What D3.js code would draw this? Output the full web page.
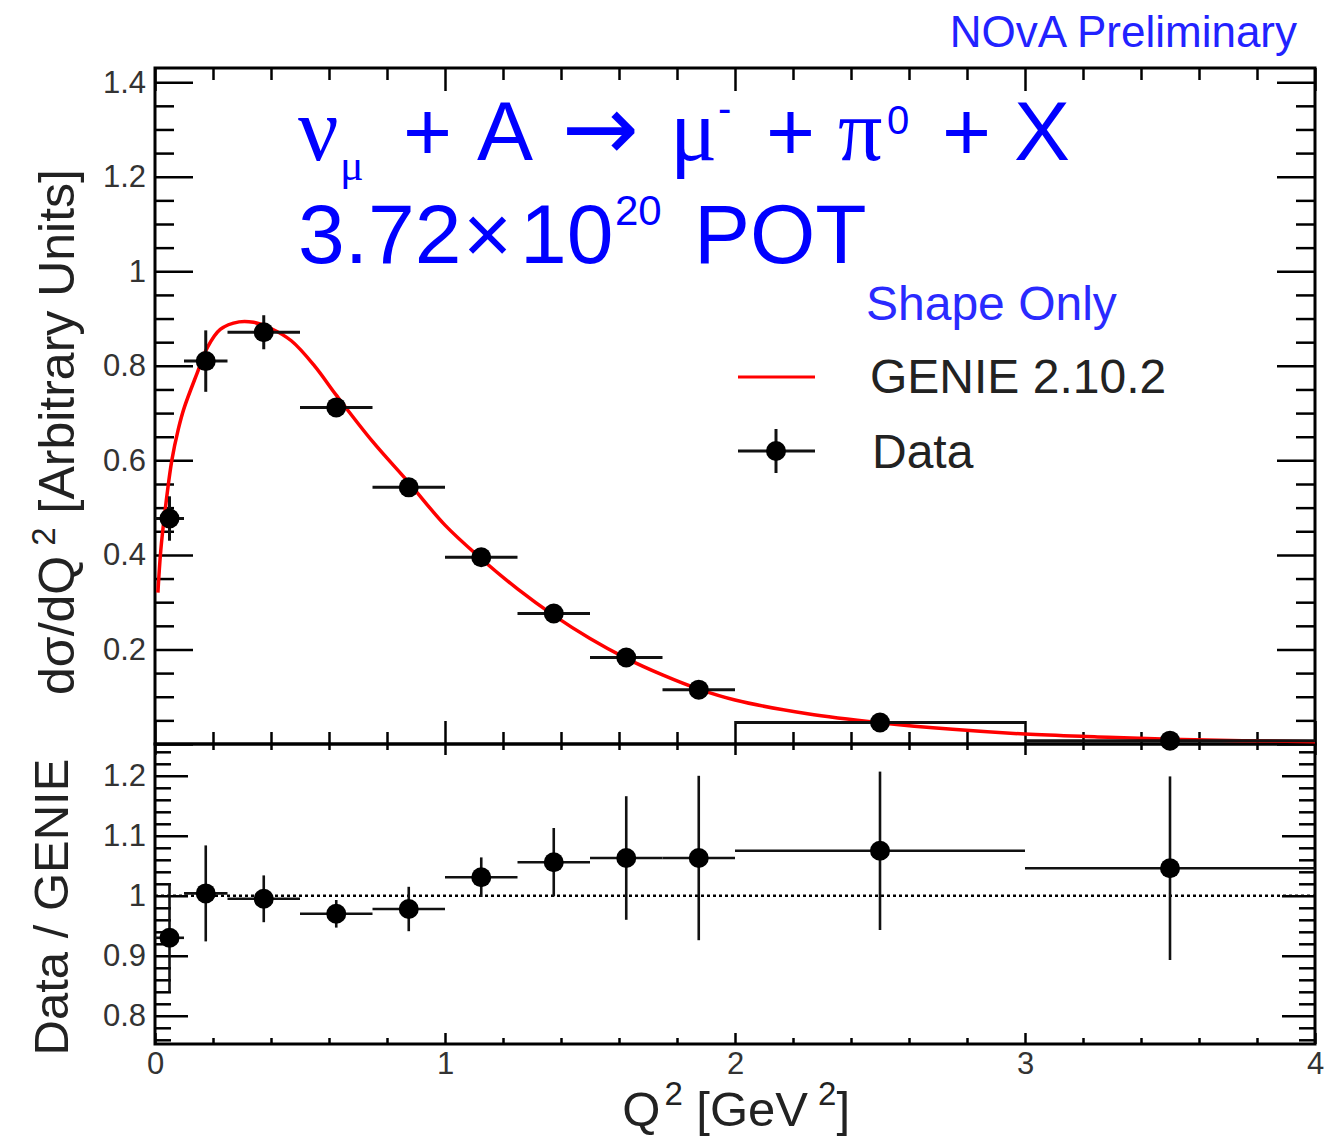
<!DOCTYPE html>
<html><head><meta charset="utf-8">
<script src="https://cdn.jsdelivr.net/npm/d3@7"></script>
<style>
body{margin:0;background:#fff}
text{font-family:"Liberation Sans",Arial,Helvetica,sans-serif}
</style>
</head><body>
<svg id="c" width="1342" height="1137"></svg>
<script>
// ---------------- data ----------------
const binLow  = [0, 0.1, 0.25, 0.5, 0.75, 1.0, 1.25, 1.5, 1.75, 2.0, 3.0];
const binHigh = [0.1, 0.25, 0.5, 0.75, 1.0, 1.25, 1.5, 1.75, 2.0, 3.0, 4.0];
const binCenter = [0.05, 0.175, 0.375, 0.625, 0.875, 1.125, 1.375, 1.625, 1.875, 2.5, 3.5];
const dataY   = [0.477, 0.810, 0.871, 0.712, 0.543, 0.395, 0.276, 0.183, 0.115, 0.0455, 0.007];
const dataErr = [0.047, 0.065, 0.036, 0.012, 0.012, 0.010, 0.008, 0.008, 0.007, 0.004, 0.002];
const ratioY   = [0.930, 1.004, 0.995, 0.970, 0.978, 1.031, 1.056, 1.063, 1.063, 1.075, 1.046];
const ratioErr = [0.090, 0.080, 0.039, 0.023, 0.037, 0.033, 0.057, 0.103, 0.137, 0.132, 0.153];
const genieQ2 = [0.01,0.02,0.034,0.058,0.08,0.1,0.145,0.18,0.225,0.29,0.34,0.4,0.47,0.55,0.625,0.75,0.875,1.0,1.125,1.25,1.375,1.5,1.625,1.75,1.875,2.0,2.25,2.5,2.75,3.0,3.25,3.5,3.75,4.0];
const genieY  = [0.32,0.41,0.49,0.60,0.665,0.71,0.784,0.838,0.877,0.893,0.892,0.879,0.853,0.800,0.738,0.640,0.553,0.463,0.392,0.328,0.272,0.223,0.181,0.146,0.116,0.093,0.064,0.045,0.031,0.021,0.015,0.010,0.007,0.005];
const yTopMajor = [0, 0.2, 0.4, 0.6, 0.8, 1.0, 1.2, 1.4];
const yTopLabels = ["", "0.2", "0.4", "0.6", "0.8", "1", "1.2", "1.4"];
const yBotMajor = [0.8, 0.9, 1.0, 1.1, 1.2];
const yBotLabels = ["0.8", "0.9", "1", "1.1", "1.2"];
const xMajor = [0, 1, 2, 3, 4];
const xLabels = ["0", "1", "2", "3", "4"];
const legendNames = ["GENIE 2.10.2", "Data"];

// ---------------- layout ----------------
const L = 155, R = 1315, T = 68, M = 744, B = 1044;
const svg = d3.select("#c");
const x = d3.scaleLinear([0, 4], [L, R]);
const yT = d3.scaleLinear([0, 1.43], [M, T]);
const yB = d3.scaleLinear([0.753, 1.253], [B, M]);

const range = (a, b, s) => d3.range(Math.round((b - a) / s) + 1).map(i => +(a + i * s).toFixed(4));
const notIn = (arr, maj) => arr.filter(v => !maj.some(m => Math.abs(m - v) < 1e-6));

function styleAxis(g, fs) {
  g.select(".domain").remove();
  g.selectAll(".tick line").attr("stroke", "#000").attr("stroke-width", 2.5);
  g.selectAll(".tick text").attr("fill", "#333").style("font-size", fs + "px")
    .style("font-family", '"Liberation Sans",Arial,sans-serif');
}
function add(axis, tr) {
  const g = svg.append("g").attr("transform", tr).call(axis);
  styleAxis(g, 31);
  return g;
}

// top panel y axes
const yTopMinor = notIn(range(0, 1.4, 0.05), yTopMajor);
add(d3.axisLeft(yT).tickValues(yTopMajor).tickSizeInner(-38).tickSizeOuter(0).tickPadding(9)
  .tickFormat((d, i) => yTopLabels[i]), `translate(${L},0)`);
add(d3.axisLeft(yT).tickValues(yTopMinor).tickSizeInner(-19).tickSizeOuter(0).tickFormat(""), `translate(${L},0)`);
add(d3.axisRight(yT).tickValues(yTopMajor).tickSizeInner(-38).tickSizeOuter(0).tickFormat(""), `translate(${R},0)`);
add(d3.axisRight(yT).tickValues(yTopMinor).tickSizeInner(-19).tickSizeOuter(0).tickFormat(""), `translate(${R},0)`);
// top panel x axes
const xMinor = notIn(range(0, 4, 0.2), xMajor);
add(d3.axisBottom(x).tickValues(xMajor).tickSizeInner(-23).tickSizeOuter(0).tickFormat(""), `translate(0,${M})`);
add(d3.axisBottom(x).tickValues(xMinor).tickSizeInner(-12).tickSizeOuter(0).tickFormat(""), `translate(0,${M})`);
add(d3.axisTop(x).tickValues(xMajor).tickSizeInner(-23).tickSizeOuter(0).tickFormat(""), `translate(0,${T})`);
add(d3.axisTop(x).tickValues(xMinor).tickSizeInner(-12).tickSizeOuter(0).tickFormat(""), `translate(0,${T})`);

// bottom panel y axes
const yBotMinor = notIn(range(0.76, 1.24, 0.02), yBotMajor);
add(d3.axisLeft(yB).tickValues(yBotMajor).tickSizeInner(-33).tickSizeOuter(0).tickPadding(9)
  .tickFormat((d, i) => yBotLabels[i]), `translate(${L},0)`);
add(d3.axisLeft(yB).tickValues(yBotMinor).tickSizeInner(-16).tickSizeOuter(0).tickFormat(""), `translate(${L},0)`);
add(d3.axisRight(yB).tickValues(yBotMajor).tickSizeInner(-33).tickSizeOuter(0).tickFormat(""), `translate(${R},0)`);
add(d3.axisRight(yB).tickValues(yBotMinor).tickSizeInner(-16).tickSizeOuter(0).tickFormat(""), `translate(${R},0)`);
// bottom panel x axes
add(d3.axisBottom(x).tickValues(xMajor).tickSizeInner(-11).tickSizeOuter(0).tickPadding(8)
  .tickFormat((d, i) => xLabels[i]), `translate(0,${B})`);
add(d3.axisBottom(x).tickValues(xMinor).tickSizeInner(-6).tickSizeOuter(0).tickFormat(""), `translate(0,${B})`);
add(d3.axisTop(x).tickValues(xMajor).tickSizeInner(-11).tickSizeOuter(0).tickFormat(""), `translate(0,${M})`);
add(d3.axisTop(x).tickValues(xMinor).tickSizeInner(-6).tickSizeOuter(0).tickFormat(""), `translate(0,${M})`);

// frames
svg.append("rect").attr("x", L).attr("y", T).attr("width", R - L).attr("height", M - T)
  .attr("fill", "none").attr("stroke", "#000").attr("stroke-width", 3);
svg.append("rect").attr("x", L).attr("y", M).attr("width", R - L).attr("height", B - M)
  .attr("fill", "none").attr("stroke", "#000").attr("stroke-width", 3);

// dotted unity line
svg.append("line").attr("x1", x(0)).attr("x2", x(4)).attr("y1", yB(1)).attr("y2", yB(1))
  .attr("stroke", "#000").attr("stroke-width", 2.5).attr("stroke-dasharray", "3,3");

// GENIE curve
const curve = d3.line().x((d, i) => x(genieQ2[i])).y(d => yT(d)).curve(d3.curveCatmullRom.alpha(0.5));
svg.append("path").attr("d", curve(genieY)).attr("fill", "none").attr("stroke", "#ff0000").attr("stroke-width", 3.5);

// data points
function drawPoints(ys, errs, ysc, sw) {
  const g = svg.append("g");
  ys.forEach((v, i) => {
    g.append("line").attr("x1", x(binLow[i])).attr("x2", x(binHigh[i])).attr("y1", ysc(v)).attr("y2", ysc(v))
      .attr("stroke", "#111").attr("stroke-width", sw);
    g.append("line").attr("x1", x(binCenter[i])).attr("x2", x(binCenter[i]))
      .attr("y1", ysc(v - errs[i])).attr("y2", ysc(v + errs[i]))
      .attr("stroke", "#111").attr("stroke-width", sw);
    g.append("circle").attr("cx", x(binCenter[i])).attr("cy", ysc(v)).attr("r", 10).attr("fill", "#000");
  });
}
drawPoints(dataY, dataErr, yT, 3);
drawPoints(ratioY, ratioErr, yB, 2.6);

// legend
const lg = svg.append("g");
lg.append("line").attr("x1", 738).attr("x2", 815).attr("y1", 377).attr("y2", 377).attr("stroke", "#ff0000").attr("stroke-width", 3);
lg.append("line").attr("x1", 738).attr("x2", 815).attr("y1", 451).attr("y2", 451).attr("stroke", "#111").attr("stroke-width", 3);
lg.append("line").attr("x1", 776).attr("x2", 776).attr("y1", 429).attr("y2", 473).attr("stroke", "#111").attr("stroke-width", 3);
lg.append("circle").attr("cx", 776).attr("cy", 451).attr("r", 10).attr("fill", "#000");
lg.append("text").attr("x", 870).attr("y", 393).attr("font-size", 48).attr("fill", "#222").text(legendNames[0]);
lg.append("text").attr("x", 872).attr("y", 468).attr("font-size", 48).attr("fill", "#222").text(legendNames[1]);
svg.append("text").attr("x", 866).attr("y", 320).attr("font-size", 48).attr("fill", "#2a2aff").text("Shape Only");

// NOvA label
svg.append("text").attr("x", 1297).attr("y", 47).attr("text-anchor", "end").attr("font-size", 44)
  .attr("fill", "#2222ff").text("NOvA Preliminary");

// big title
const blue = "#0000ff";
const serif = '"Liberation Serif","DejaVu Serif",serif';
function piece(txt, px, py, fs, fam) {
  const t = svg.append("text").attr("x", px).attr("y", py).attr("font-size", fs).attr("fill", blue).text(txt);
  if (fam) t.style("font-family", fam);
  return t;
}
piece("ν", 298, 160, 90, serif);
piece("μ", 340, 180, 44, serif);
piece("+", 403, 160, 84);
piece("A", 477, 160, 84);
piece("→", 562, 160, 92, '"DejaVu Sans",sans-serif');
piece("μ", 670, 160, 88, serif);
piece("-", 718, 122, 40);
piece("+", 766, 160, 84);
piece("π", 838, 160, 88, serif);
piece("0", 887, 134, 40);
piece("+", 942, 160, 84);
piece("X", 1014, 160, 84);
piece("3.72", 298, 263, 84);
piece("×", 463, 263, 84);
piece("10", 520, 263, 84);
piece("20", 615, 225, 42);
piece("POT", 694, 263, 84);

// axis titles
const ty = svg.append("text").attr("transform", "translate(74,432) rotate(-90)").attr("text-anchor", "middle")
  .attr("font-size", 50).attr("fill", "#222");
ty.append("tspan").text("dσ/dQ");
ty.append("tspan").attr("dx", 10).attr("dy", -19).attr("font-size", 33).text("2");
ty.append("tspan").attr("dy", 19).text(" [Arbitrary Units]");

svg.append("text").attr("transform", "translate(68,907) rotate(-90)").attr("text-anchor", "middle")
  .attr("font-size", 49).attr("fill", "#222").text("Data / GENIE");

const tx = svg.append("text").attr("x", 850).attr("y", 1126).attr("text-anchor", "end")
  .attr("font-size", 49).attr("fill", "#222");
tx.append("tspan").text("Q");
tx.append("tspan").attr("dx", 4).attr("dy", -21).attr("font-size", 33).text("2");
tx.append("tspan").attr("dy", 21).text(" [GeV");
tx.append("tspan").attr("dx", 10).attr("dy", -21).attr("font-size", 33).text("2");
tx.append("tspan").attr("dy", 21).text("]");
</script>
</body></html>
